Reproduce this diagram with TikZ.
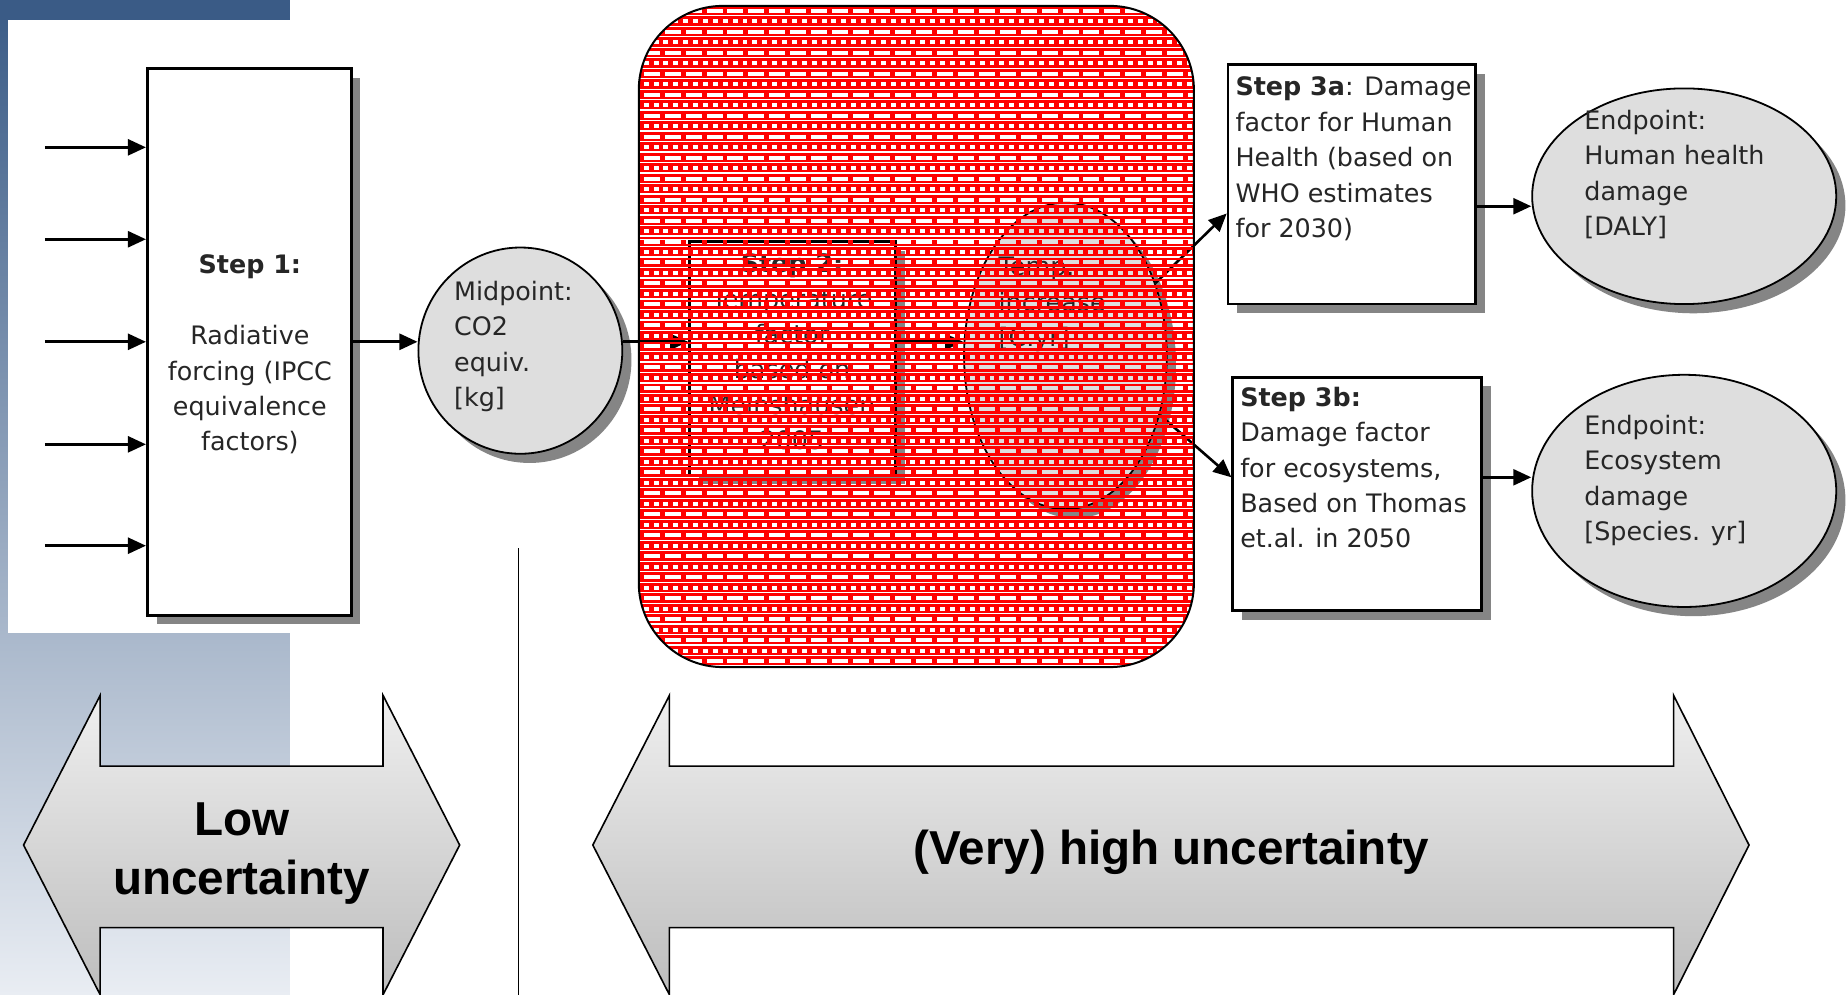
\documentclass[tikz,border=0pt]{standalone}
\usepackage{fontspec}
\setmainfont{DejaVu Sans}
\newfontfamily\arialfont{Liberation Sans}
\usetikzlibrary{shapes.geometric,shadows,arrows.meta,calc}
\def\U{0.5893}
\definecolor{panelTop}{HTML}{3A5B86}
\definecolor{panelBot}{HTML}{E9EDF3}
\definecolor{ellfill}{HTML}{DEDEDE}
\definecolor{shadowc}{HTML}{858585}
\definecolor{txtc}{HTML}{262626}
\definecolor{arrTop}{HTML}{EFEFEF}
\definecolor{arrBot}{HTML}{BDBDBD}
\tikzset{
  sized/.style 2 args={minimum width=#1*\U pt, minimum height=#2*\U pt},
  shadowed/.style={drop shadow={shadow xshift=4.6pt, shadow yshift=-4.6pt, fill=shadowc, opacity=1}},
  box/.style={rectangle, draw=black, line width=1.4pt, fill=white, inner sep=0pt, shadowed},
  oval/.style={ellipse, draw=black, line width=0.9pt, fill=ellfill, inner sep=0pt, shadowed},
  conn/.style={line width=1.3pt, -{Triangle[length=9pt,width=8pt]}},
  txtnode/.style={inner sep=0pt, text=txtc, font=\fontsize{12.7}{17.7}\selectfont},
  bigarrow/.style={draw=black, line width=0.8pt, top color=arrTop, bottom color=arrBot},
  bigtext/.style={inner sep=0pt, align=center, font=\arialfont\bfseries\fontsize{23.8}{29.5}\selectfont},
}
\begin{document}
\begin{tikzpicture}[x=0.5893pt, y=-0.5893pt]
\useasboundingbox (0,0) rectangle (1568,844);
% background
\fill[white] (0,0) rectangle (1568,844);
\shade[top color=panelTop, bottom color=panelBot] (0,0) rectangle (246,844);
\fill[panelTop] (0,0) rectangle (246,17);
\fill[white] (7,17) rectangle (260,537);

% shapes
\node[box, sized={173}{464}] (s1) at (211.5,290) {};
\node[oval, sized={173}{175}] (mid) at (441.5,297.5) {};
\node[box, sized={175}{198}] (s2) at (672.5,304) {};
\node[oval, sized={172}{260}] (temp) at (904,302) {};
\node[box, sized={210}{203}] (s3a) at (1147,156.5) {};
\node[box, sized={211}{198}] (s3b) at (1151.5,419) {};
\node[oval, sized={258}{183}] (e1) at (1429,166.5) {};
\node[oval, sized={258}{197}] (e2) at (1429,416.5) {};

% texts
\node[txtnode, align=center, anchor=north] (t1) at (212,216) {\textbf{Step 1:}\\[17.7pt]Radiative\\forcing (IPCC\\equivalence\\factors)};
\node[txtnode, align=left, anchor=north west] (tm) at (385,238) {Midpoint:\\CO2\\equiv.\\{[kg]}};
\node[txtnode, align=center, anchor=north] (t2) at (672,215) {\textbf{Step 2:}\\Temperature\\factor\\based on\\Meinshausen\\2005};
\node[txtnode, align=left, anchor=north west] (tt) at (847,218) {Temp.\\increase\\{[C.yr]}};
\node[txtnode, align=left, anchor=north west] (t3a) at (1048,65) {\textbf{Step 3a}: Damage\\factor for Human\\Health (based on\\WHO estimates\\for 2030)};
\node[txtnode, align=left, anchor=north west] (t3b) at (1052,328) {\textbf{Step 3b:}\\Damage factor\\for ecosystems,\\Based on Thomas\\et.al. in 2050};
\node[txtnode, align=left, anchor=north west] (te1) at (1344,93) {Endpoint:\\Human health\\damage\\{[DALY]}};
\node[txtnode, align=left, anchor=north west] (te2) at (1344,352) {Endpoint:\\Ecosystem\\damage\\{[Species. yr]}};

% input arrows
\foreach \i/\yy in {1/125,2/203,3/290,4/377,5/463} {
  \coordinate (in\i) at (38,\yy);
  \draw[conn] (in\i) -- (in\i -| s1.west);
}
% connectors
\draw[conn] (s1.east) -- (s1.east -| mid.west);
\draw[conn] (s1.east -| mid.east) -- (s1.east -| s2.west);
\draw[conn] (s1.east -| s2.east) -- (s1.east -| temp.west);
\coordinate (a3in) at ($(s3a.north west)!0.62!(s3a.south west)$);
\coordinate (b3in) at ($(s3b.north west)!0.43!(s3b.south west)$);
\coordinate (a3out) at ($(s3a.north east)!0.59!(s3a.south east)$);
\coordinate (b3out) at ($(s3b.north east)!0.43!(s3b.south east)$);
\draw[conn] (temp.39) -- (a3in);
\draw[conn] (temp.-32) -- (b3in);
\draw[conn] (a3out) -- (a3out -| e1.west);
\draw[conn] (b3out) -- (b3out -| e2.west);

% red patterned overlay
\begin{scope}
  \clip[rounded corners=42pt] (542,5) rectangle (1013,566);
  \foreach \k in {0,...,63} {
    \pgfmathsetmacro\yy{5+\k*8.9}
    \fill[red] (540,\yy) rectangle (1015,\yy+2.4);
    \fill[red] (540,\yy+5.8) rectangle (1015,\yy+7.8);
  }
  \foreach \k in {0,2,...,62} {
    \pgfmathsetmacro\yy{5+\k*8.9+4.1}
    \draw[red, line width=2.0pt, dash pattern=on 2.47pt off 8.0pt] (542,\yy) -- (1013,\yy);
  }
  \foreach \k in {1,3,...,63} {
    \pgfmathsetmacro\yy{5+\k*8.9+4.1}
    \draw[red, line width=2.0pt, dash pattern=on 2.47pt off 2.47pt] (542,\yy) -- (1013,\yy);
  }
\end{scope}
\draw[line width=1pt, rounded corners=42pt] (542,5) rectangle (1013,566);

% uncertainty arrows
\path[bigarrow] (20,717) -- (85,590) -- (85,650) -- (325,650) -- (325,590) -- (390,717) -- (325,844) -- (325,787) -- (85,787) -- (85,844) -- cycle;
\path[bigarrow] (503,717) -- (568,590) -- (568,650) -- (1420,650) -- (1420,590) -- (1484,717) -- (1420,844) -- (1420,787) -- (568,787) -- (568,844) -- cycle;
\node[bigtext] (lowt) at (205,724) {Low\\uncertainty};
\node[bigtext] (hight) at (994,723) {(Very) high uncertainty};

% divider
\coordinate (vtop) at (440,465);
\coordinate (vbot) at (440,844);
\draw[line width=0.8pt] (vtop) -- (vbot);
\end{tikzpicture}
\end{document}
